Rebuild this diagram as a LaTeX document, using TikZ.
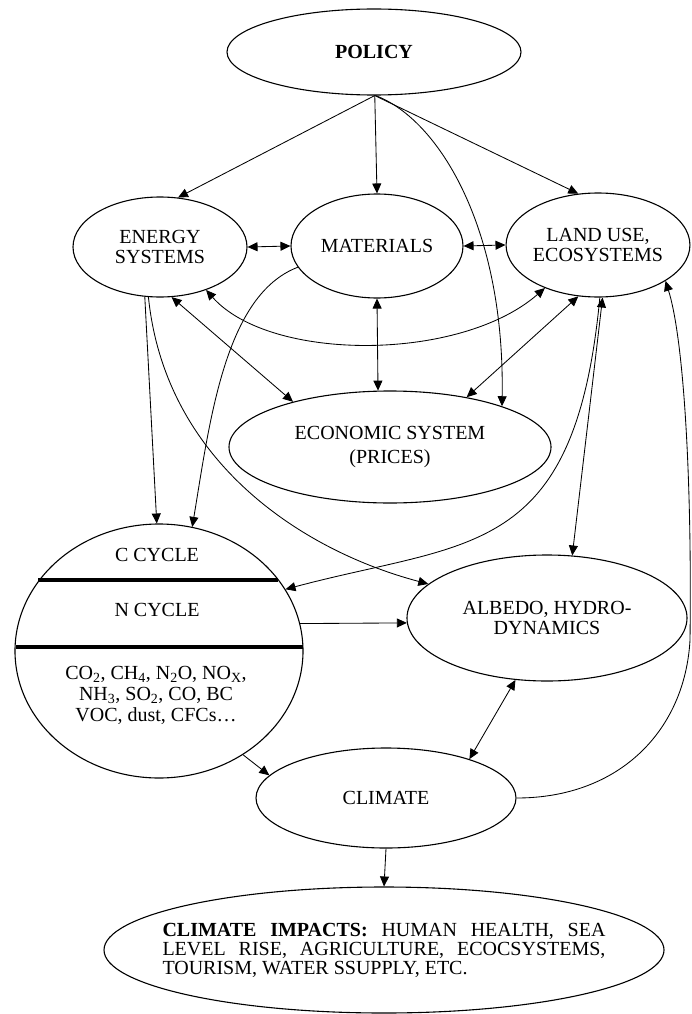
\documentclass[tikz,border=0pt]{standalone}
\usepackage{fontspec}
\setmainfont{Liberation Serif}
\usepackage{tikz}
\usetikzlibrary{arrows.meta, shapes.geometric, calc}
\newcommand{\chsub}[1]{\textsubscript{#1}}

\begin{document}
\begin{tikzpicture}[x=1pt, y=-1pt]
	\tikzset{
		blob/.style={ellipse, draw, line width=1.1pt, inner sep=0pt, align=center, font=\fontsize{20}{20}\selectfont},
		txt/.style={inner sep=0pt, align=center, font=\fontsize{20}{21}\selectfont},
		link/.style={-{Triangle[length=10pt,width=9pt]}, line width=0.85pt},
		both/.style={{Triangle[length=10pt,width=9pt]}-{Triangle[length=10pt,width=9pt]}, line width=0.85pt},
		bar/.style={line width=4.5pt}
	}
	\useasboundingbox (0,0) rectangle (691,1014);
	
	% 节点
	\node[blob, minimum width=294pt, minimum height=86pt] (policy) at (374,52) {\textbf{POLICY}};
	\node[blob, minimum width=174pt, minimum height=100pt] (energy) at (160,247) {ENERGY\\SYSTEMS};
	\node[blob, minimum width=172pt, minimum height=104pt] (mater) at (377,246) {MATERIALS};
	\node[blob, minimum width=180pt, minimum height=104pt] (land) at (598,245) {LAND USE,\\ECOSYSTEMS};
	\node[blob, minimum width=322pt, minimum height=112pt] (econ) at (390,447) {ECONOMIC SYSTEM\\[4pt](PRICES)};
	\node[blob, minimum width=288pt, minimum height=254pt] (cyc) at (159,651) {};
	\node[blob, minimum width=280pt, minimum height=126pt] (albedo) at (547,618) {ALBEDO, HYDRO-\\DYNAMICS};
	\node[blob, minimum width=260pt, minimum height=100pt] (climate) at (386,798) {CLIMATE};
	\node[blob, inner xsep=-30pt, minimum width=560pt, minimum height=126pt, align=left, font=\fontsize{20}{19}\selectfont] (impact) at (384,950)
		{\makebox[443pt][s]{\textbf{CLIMATE IMPACTS:} HUMAN HEALTH, SEA}\\
		 \makebox[443pt][s]{LEVEL RISE, AGRICULTURE, ECOCSYSTEMS,}\\
		 TOURISM, WATER SSUPPLY, ETC.};
	
	% 循环分区
	\node[txt] (ctxt) at (157,555) {C CYCLE};
	\node[txt] (ntxt) at (157,610) {N CYCLE};
	\node[txt] (gases) at (156,695) {CO\chsub{2}, CH\chsub{4}, N\chsub{2}O, NO\chsub{X},\\NH\chsub{3}, SO\chsub{2}, CO, BC\\VOC, dust, CFCs\dots};
	\draw[bar] (38,580) -- (278,580);
	\draw[bar] (16,647) -- (303,647);
	
	% 政策 → 各系统
	\foreach \t/\a in {energy/70, mater/90, land/111}
		\draw[link] (policy.-89) -- (\t.\a);
	\draw[link] (policy.-88) .. controls (440,120) and (505,230) .. (econ.20);
	
	% 双向
	\foreach \a/\b in {energy.0/mater.180, mater.0/land.180, mater.-90/econ.102, energy.-77/econ.155, land.-111/econ.33, land.-85/albedo.68, albedo.-117/climate.25}
		\draw[both] (\a) -- (\b);
	\draw[both] (energy.-43) .. controls (270,362) and (460,362) .. (land.-141);
	
	% 流向循环
	\draw[link] (energy.-107) -- (cyc.91);
	\draw[link] (energy.-103) .. controls (165,460) and (300,550) .. (albedo.164);
	\draw[link] (mater.-165) .. controls (225,295) and (210,420) .. (cyc.75);
	\draw[link] (land.-88) .. controls (575,560) and (470,540) .. (cyc.26);
	
	% 气候
	\draw[link] (cyc.11) -- (albedo.-178);
	\draw[link] (cyc.-51) -- (climate.169);
	\draw[link] (climate.-90) -- (impact.90);
	\draw[link] (climate.0) .. controls (620,798) and (685,730) .. (690,640) .. controls (692,480) and (684,340) .. (land.-28);
\end{tikzpicture}
\end{document}
